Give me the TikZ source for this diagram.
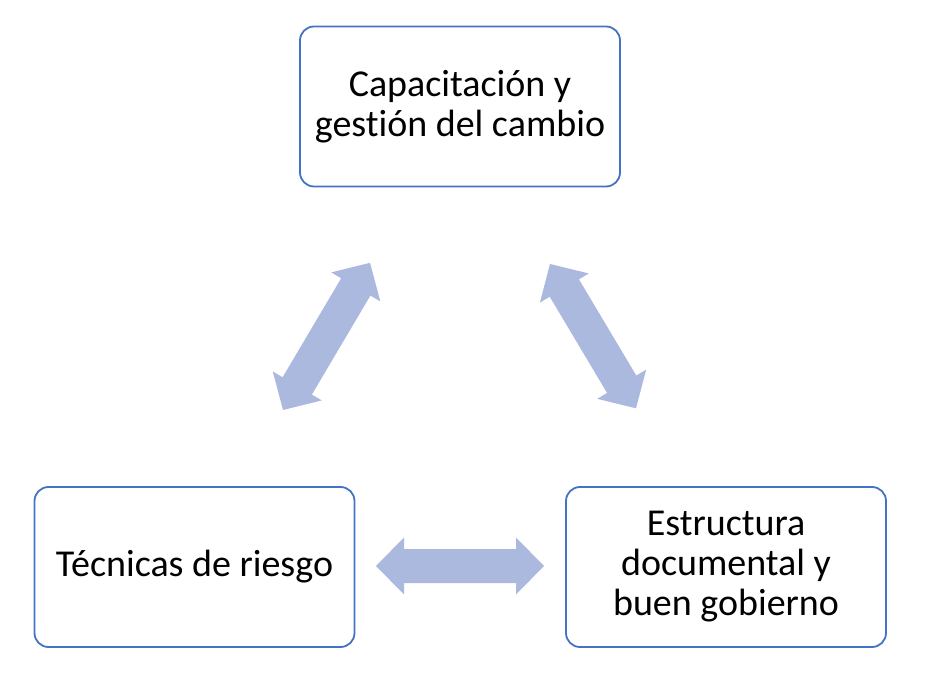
\documentclass[tikz,border=0pt]{standalone}
\usepackage{fontspec}
\setmainfont[Ligatures=NoCommon]{Carlito}
\definecolor{boxblue}{RGB}{68,114,196}
\definecolor{arrowfill}{RGB}{172,185,222}

\begin{document}
\begin{tikzpicture}[x=1pt,y=1pt,
  box/.style={draw=boxblue,line width=1.8pt,rounded corners=14pt,minimum width=320pt,minimum height=160pt,align=center,font=\fontsize{38}{40}\selectfont},
  pics/dblarrow/.style={code={\fill[arrowfill] (0,0) -- (28,28.5) -- (28,17) -- (#1-28,17) -- (#1-28,28.5) -- (#1,0) -- (#1-28,-28.5) -- (#1-28,-17) -- (28,-17) -- (28,-28.5) -- cycle;}}]
\useasboundingbox (0,0) rectangle (941,675);
\node[box] (cap) at (460,568.5) {Capacitación y\\gestión del cambio};
\node[box] (tec) at (194.5,108) {Técnicas de riesgo};
\node[box] (est) at (726,108) {Estructura\\documental y\\buen gobierno};
% block arrows between the boxes
\coordinate (l1) at (283,265);
\coordinate (r1) at (550,411);
\coordinate (b1) at (376,109);
\pic[rotate=59.4] at (l1) {dblarrow=171};
\pic[rotate=-59.2] at (r1) {dblarrow=168};
\pic at (b1) {dblarrow=168};
\end{tikzpicture}
\end{document}
